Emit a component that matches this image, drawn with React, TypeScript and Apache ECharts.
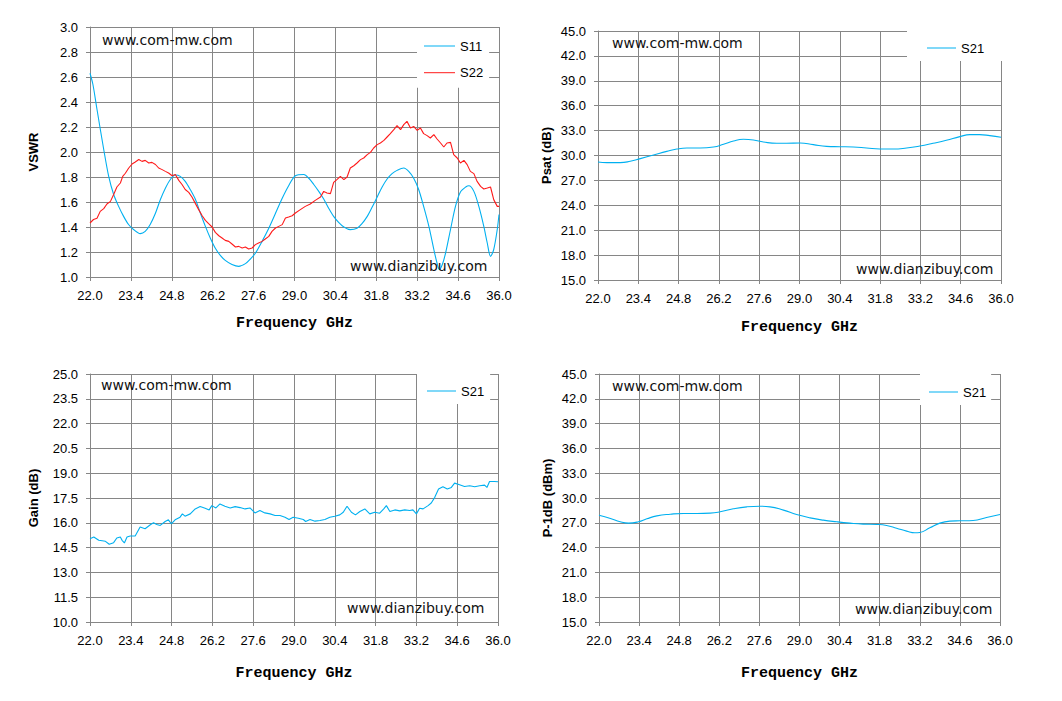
import React, { useEffect, useRef } from "react";
import * as echarts from "echarts";

// ---------- data ----------
const s11Freq = [22.0, 22.1, 22.24, 22.47, 22.64, 22.81, 22.98, 23.15, 23.32, 23.49, 23.72, 23.89, 24.06, 24.24, 24.41, 24.58, 24.75, 24.92, 25.09, 25.26, 25.43, 25.61, 25.78, 25.95, 26.12, 26.29, 26.46, 26.63, 26.86, 27.09, 27.32, 27.49, 27.66, 27.89, 28.12, 28.35, 28.58, 28.8, 29.03, 29.32, 29.49, 29.66, 29.83, 30.0, 30.17, 30.34, 30.51, 30.69, 30.91, 31.14, 31.31, 31.49, 31.66, 31.83, 32.0, 32.17, 32.34, 32.51, 32.74, 32.91, 33.08, 33.25, 33.42, 33.6, 33.77, 33.88, 33.96, 34.06, 34.17, 34.34, 34.51, 34.68, 34.86, 34.97, 35.14, 35.31, 35.48, 35.6, 35.71, 35.82, 35.94, 36.0];
const s11Vswr = [2.63, 2.54, 2.34, 2.02, 1.805, 1.66, 1.565, 1.485, 1.42, 1.38, 1.347, 1.365, 1.42, 1.51, 1.62, 1.71, 1.78, 1.816, 1.805, 1.765, 1.7, 1.62, 1.51, 1.405, 1.31, 1.23, 1.173, 1.133, 1.1, 1.085, 1.107, 1.144, 1.19, 1.285, 1.39, 1.51, 1.63, 1.73, 1.81, 1.82, 1.79, 1.74, 1.685, 1.624, 1.55, 1.485, 1.437, 1.4, 1.379, 1.39, 1.427, 1.485, 1.56, 1.64, 1.72, 1.784, 1.827, 1.853, 1.872, 1.845, 1.79, 1.7, 1.565, 1.405, 1.22, 1.11, 1.06, 1.1, 1.19, 1.38, 1.565, 1.68, 1.72, 1.73, 1.685, 1.565, 1.405, 1.27, 1.165, 1.22, 1.38, 1.5];

const s22Freq = [22.0, 22.12, 22.24, 22.35, 22.47, 22.58, 22.7, 22.81, 22.92, 23.04, 23.12, 23.21, 23.32, 23.44, 23.55, 23.67, 23.78, 23.89, 24.01, 24.12, 24.24, 24.35, 24.47, 24.58, 24.69, 24.81, 24.92, 25.04, 25.15, 25.26, 25.38, 25.49, 25.61, 25.72, 25.84, 25.95, 26.06, 26.18, 26.29, 26.41, 26.52, 26.63, 26.75, 26.86, 26.98, 27.09, 27.21, 27.32, 27.43, 27.55, 27.66, 27.77, 27.89, 28.0, 28.12, 28.23, 28.35, 28.46, 28.58, 28.69, 28.8, 28.92, 29.03, 29.2, 29.37, 29.54, 29.71, 29.89, 30.0, 30.11, 30.23, 30.34, 30.45, 30.57, 30.69, 30.8, 30.91, 31.03, 31.14, 31.26, 31.37, 31.49, 31.6, 31.71, 31.83, 31.94, 32.06, 32.17, 32.28, 32.4, 32.51, 32.63, 32.74, 32.85, 32.97, 33.08, 33.2, 33.31, 33.42, 33.54, 33.65, 33.77, 33.88, 34.0, 34.11, 34.22, 34.34, 34.45, 34.57, 34.68, 34.8, 34.91, 35.02, 35.14, 35.25, 35.37, 35.48, 35.6, 35.71, 35.82, 35.94, 36.0];
const s22Vswr = [1.432, 1.46, 1.47, 1.525, 1.547, 1.584, 1.605, 1.66, 1.72, 1.752, 1.805, 1.83, 1.87, 1.904, 1.92, 1.94, 1.925, 1.933, 1.912, 1.917, 1.9, 1.872, 1.859, 1.845, 1.832, 1.81, 1.82, 1.773, 1.74, 1.7, 1.677, 1.64, 1.587, 1.539, 1.49, 1.453, 1.427, 1.4, 1.357, 1.33, 1.312, 1.293, 1.285, 1.264, 1.24, 1.245, 1.232, 1.24, 1.224, 1.232, 1.259, 1.272, 1.285, 1.304, 1.325, 1.365, 1.392, 1.405, 1.419, 1.472, 1.48, 1.49, 1.512, 1.539, 1.565, 1.584, 1.613, 1.64, 1.685, 1.672, 1.667, 1.757, 1.779, 1.805, 1.779, 1.8, 1.872, 1.89, 1.912, 1.939, 1.952, 1.979, 1.997, 2.032, 2.059, 2.072, 2.093, 2.12, 2.147, 2.179, 2.211, 2.179, 2.219, 2.245, 2.192, 2.205, 2.173, 2.192, 2.147, 2.131, 2.112, 2.139, 2.104, 2.072, 2.04, 2.072, 2.077, 1.979, 1.952, 1.912, 1.933, 1.899, 1.845, 1.827, 1.765, 1.725, 1.704, 1.712, 1.72, 1.619, 1.565, 1.565];

const psatFreq = [22.0, 22.31, 22.77, 23.12, 23.47, 23.93, 24.39, 24.74, 25.09, 25.55, 26.01, 26.36, 26.71, 27.05, 27.4, 27.75, 28.21, 28.55, 29.02, 29.48, 29.94, 30.4, 30.87, 31.33, 31.79, 32.25, 32.72, 33.18, 33.64, 34.1, 34.57, 34.92, 35.26, 35.61, 36.0];
const psatDb = [29.22, 29.14, 29.14, 29.3, 29.62, 30.06, 30.5, 30.78, 30.9, 30.9, 31.02, 31.35, 31.75, 31.95, 31.87, 31.63, 31.47, 31.47, 31.51, 31.31, 31.1, 31.06, 31.02, 30.9, 30.78, 30.78, 30.9, 31.14, 31.47, 31.83, 32.27, 32.51, 32.51, 32.39, 32.19];

const gainFreq = [22.0, 22.13, 22.3, 22.53, 22.66, 22.81, 22.92, 23.04, 23.1, 23.18, 23.27, 23.38, 23.55, 23.72, 23.89, 24.07, 24.18, 24.29, 24.41, 24.58, 24.69, 24.79, 24.92, 25.09, 25.17, 25.26, 25.44, 25.61, 25.78, 25.95, 26.09, 26.18, 26.32, 26.46, 26.63, 26.81, 26.98, 27.15, 27.32, 27.49, 27.66, 27.83, 28.0, 28.18, 28.35, 28.52, 28.69, 28.83, 28.97, 29.15, 29.32, 29.4, 29.55, 29.72, 29.89, 30.06, 30.23, 30.4, 30.57, 30.69, 30.82, 30.97, 31.11, 31.26, 31.43, 31.6, 31.77, 31.94, 32.08, 32.17, 32.29, 32.46, 32.63, 32.8, 32.97, 33.08, 33.2, 33.31, 33.43, 33.6, 33.71, 33.83, 33.96, 34.11, 34.26, 34.4, 34.51, 34.68, 34.85, 35.03, 35.2, 35.37, 35.54, 35.62, 35.71, 35.88, 36.0];
const gainDb = [15.04, 15.14, 14.94, 14.88, 14.7, 14.8, 15.08, 15.14, 14.94, 14.78, 15.14, 15.2, 15.2, 15.74, 15.64, 15.88, 16.0, 15.9, 15.84, 16.08, 16.18, 15.94, 16.18, 16.34, 16.54, 16.4, 16.54, 16.84, 16.98, 16.88, 16.78, 17.04, 16.9, 17.14, 17.0, 16.9, 16.98, 16.92, 16.84, 16.9, 16.6, 16.74, 16.6, 16.54, 16.44, 16.44, 16.34, 16.2, 16.34, 16.28, 16.2, 16.08, 16.2, 16.1, 16.14, 16.2, 16.34, 16.4, 16.48, 16.64, 17.0, 16.64, 16.48, 16.68, 16.84, 16.54, 16.64, 16.58, 16.84, 17.04, 16.68, 16.78, 16.72, 16.78, 16.74, 16.78, 16.54, 16.88, 16.84, 17.04, 17.2, 17.54, 18.04, 18.18, 18.04, 18.14, 18.4, 18.3, 18.2, 18.24, 18.18, 18.24, 18.28, 18.14, 18.5, 18.5, 18.48];

const p1dbFreq = [22.0, 22.4, 22.74, 23.03, 23.38, 23.67, 24.02, 24.49, 24.95, 25.42, 25.88, 26.23, 26.69, 27.16, 27.62, 27.97, 28.44, 28.9, 29.37, 29.83, 30.3, 30.76, 31.22, 31.69, 32.04, 32.39, 32.74, 33.03, 33.2, 33.55, 33.9, 34.25, 34.6, 35.06, 35.53, 36.0];
const p1dbDbm = [27.92, 27.52, 27.12, 26.96, 27.12, 27.48, 27.84, 28.04, 28.13, 28.13, 28.17, 28.33, 28.69, 28.93, 29.01, 28.93, 28.53, 28.0, 27.6, 27.32, 27.12, 26.96, 26.84, 26.8, 26.68, 26.35, 25.99, 25.79, 25.83, 26.39, 26.96, 27.2, 27.24, 27.28, 27.64, 28.0];

const freqMin = 22.0;
const freqMax = 36.0;
const freqStep = 1.4;

const vswrAxis = { min: 1.0, max: 3.0, step: 0.2, title: "VSWR" };
const psatAxis = { min: 15.0, max: 45.0, step: 3.0, title: "Psat (dB)" };
const gainAxis = { min: 10.0, max: 25.0, step: 1.5, title: "Gain (dB)" };
const p1dbAxis = { min: 15.0, max: 45.0, step: 3.0, title: "P-1dB (dBm)" };

const xTitle = "Frequency GHz";
const siteA = "www.com-mw.com";
const siteB = "www.dianzibuy.com";

// ---------- styles ----------
const BLUE = "#00B0F0";
const RED = "#FF1A1A";
const GRIDC = "#868686";
const TICK_FONT = "Liberation Sans";

const grids = [
  { left: 90, top: 27, width: 409, height: 250 },
  { left: 598, top: 31, width: 403, height: 249 },
  { left: 90, top: 374, width: 408, height: 248 },
  { left: 599, top: 374, width: 401, height: 248 },
];

const pairs = (f: number[], v: number[]) => f.map((x, i) => [x, v[i]]);

function xAxisFor(gridIndex: number, nameGap: number) {
  return {
    type: "value",
    gridIndex,
    min: freqMin,
    max: freqMax,
    interval: freqStep,
    name: xTitle,
    nameLocation: "middle",
    nameGap,
    nameTextStyle: {
      fontFamily: "Liberation Mono",
      fontWeight: "bold",
      fontSize: 15,
      color: "#000",
    },
    axisLine: { show: true, lineStyle: { color: GRIDC, width: 1 } },
    axisTick: { show: true, length: 4, lineStyle: { color: GRIDC } },
    axisLabel: {
      show: true,
      margin: 12,
      fontFamily: TICK_FONT,
      fontSize: 13,
      color: "#000",
      formatter: (v: number) => v.toFixed(1),
      showMinLabel: true,
      showMaxLabel: true,
    },
    splitLine: { show: true, lineStyle: { color: GRIDC, width: 1 } },
  };
}

function yAxisFor(gridIndex: number, ax: { min: number; max: number; step: number; title: string }, nameGap: number) {
  return {
    type: "value",
    gridIndex,
    min: ax.min,
    max: ax.max,
    interval: ax.step,
    name: ax.title,
    nameLocation: "middle",
    nameGap,
    nameTextStyle: {
      fontFamily: "Liberation Sans",
      fontWeight: "bold",
      fontSize: 13,
      color: "#000",
    },
    axisLine: { show: true, lineStyle: { color: GRIDC, width: 1 } },
    axisTick: { show: true, length: 4, lineStyle: { color: GRIDC } },
    axisLabel: {
      show: true,
      margin: 12,
      fontFamily: TICK_FONT,
      fontSize: 13,
      color: "#000",
      formatter: (v: number) => v.toFixed(1),
      showMinLabel: true,
      showMaxLabel: true,
    },
    splitLine: { show: true, lineStyle: { color: GRIDC, width: 1 } },
  };
}

function lineSeries(name: string, idx: number, data: number[][], color: string, smooth: boolean | number) {
  return {
    type: "line",
    name,
    xAxisIndex: idx,
    yAxisIndex: idx,
    data,
    symbol: "none",
    showSymbol: false,
    smooth,
    lineStyle: { color, width: 1.1 },
    itemStyle: { color },
    emphasis: { disabled: true },
    silent: true,
    z: 3,
  };
}

function legendFor(left: number, top: number, padding: number[], data: string[], itemWidth: number) {
  return {
    orient: "vertical",
    left,
    top,
    padding,
    backgroundColor: "#ffffff",
    icon: "rect",
    itemWidth,
    itemHeight: 1,
    itemGap: 12.7,
    selectedMode: false,
    textStyle: { fontFamily: "Liberation Sans", fontSize: 13, lineHeight: 14, color: "#000" },
    data,
    z: 4,
  };
}

function watermark(x: number, y: number, text: string) {
  return {
    type: "text",
    x,
    y,
    z: 10,
    silent: true,
    style: {
      text,
      fontFamily: "DejaVu Sans",
      fontSize: 14,
      fill: "#111",
      verticalAlign: "middle",
      align: "left",
    },
  };
}

export default function App() {
  const ref = useRef<HTMLDivElement>(null);
  useEffect(() => {
    if (!ref.current) return;
    const chart = echarts.init(ref.current, null, { renderer: "svg" });
    const option = {
      animation: false,
      backgroundColor: "#ffffff",
      grid: grids.map((g) => ({ ...g, containLabel: false, outerBoundsMode: "none" })),
      xAxis: [xAxisFor(0, 39), xAxisFor(1, 40), xAxisFor(2, 44), xAxisFor(3, 44)],
      yAxis: [
        yAxisFor(0, vswrAxis, 50),
        yAxisFor(1, psatAxis, 45),
        yAxisFor(2, gainAxis, 50),
        yAxisFor(3, p1dbAxis, 45),
      ],
      legend: [
        legendFor(417, 28, [11, 6, 8, 7], ["S11", "S22"], 31),
        legendFor(907, 31, [10, 21, 6, 20], ["S21"], 29),
        legendFor(417, 374, [10, 6, 6, 10], ["S21"], 29),
        legendFor(920, 374, [11, 5, 6, 9], ["S21"], 29),
      ],
      series: [
        lineSeries("S11", 0, pairs(s11Freq, s11Vswr), BLUE, 0.3),
        lineSeries("S22", 0, pairs(s22Freq, s22Vswr), RED, false),
        lineSeries("S21", 1, pairs(psatFreq, psatDb), BLUE, 0.5),
        lineSeries("S21", 2, pairs(gainFreq, gainDb), BLUE, false),
        lineSeries("S21", 3, pairs(p1dbFreq, p1dbDbm), BLUE, 0.5),
      ],
      graphic: [
        watermark(102, 40, siteA),
        watermark(612, 43, siteA),
        watermark(101, 385, siteA),
        watermark(612, 386, siteA),
        watermark(350, 266, siteB),
        watermark(856, 269, siteB),
        watermark(347, 608, siteB),
        watermark(855, 609, siteB),
      ],
    };
    chart.setOption(option as any);
    return () => chart.dispose();
  }, []);
  return (
    <div
      ref={ref}
      style={{ position: "fixed", left: 0, top: 0, width: 1062, height: 701, background: "#fff" }}
    />
  );
}
